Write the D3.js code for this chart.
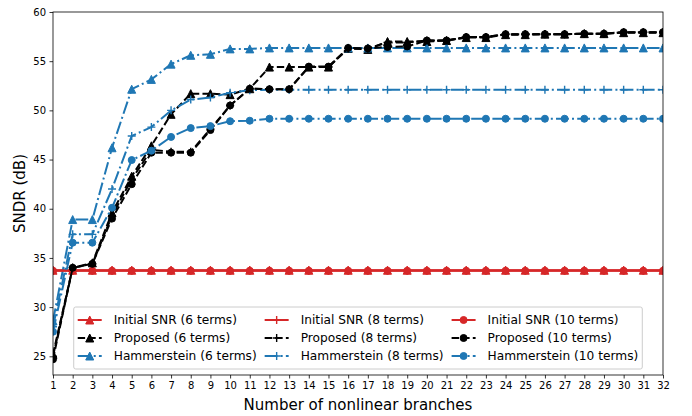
<!DOCTYPE html>
<html><head><meta charset="utf-8">
<script src="https://cdn.jsdelivr.net/npm/d3@7"></script>
<style>
html,body{margin:0;padding:0;background:#fff;}
svg{display:block;font-family:"DejaVu Sans",sans-serif;}
</style></head>
<body><svg id="chart" width="692" height="416"></svg>
<script>
const branches = [1,2,3,4,5,6,7,8,9,10,11,12,13,14,15,16,17,18,19,20,21,22,23,24,25,26,27,28,29,30,31,32];
const yTicks = [25,30,35,40,45,50,55,60];

const initial6  = [33.75,33.75,33.75,33.75,33.75,33.75,33.75,33.75,33.75,33.75,33.75,33.75,33.75,33.75,33.75,33.75,33.75,33.75,33.75,33.75,33.75,33.75,33.75,33.75,33.75,33.75,33.75,33.75,33.75,33.75,33.75,33.75];
const initial8  = [33.72,33.72,33.72,33.72,33.72,33.72,33.72,33.72,33.72,33.72,33.72,33.72,33.72,33.72,33.72,33.72,33.72,33.72,33.72,33.72,33.72,33.72,33.72,33.72,33.72,33.72,33.72,33.72,33.72,33.72,33.72,33.72];
const initial10 = [33.7,33.7,33.7,33.7,33.7,33.7,33.7,33.7,33.7,33.7,33.7,33.7,33.7,33.7,33.7,33.7,33.7,33.7,33.7,33.7,33.7,33.7,33.7,33.7,33.7,33.7,33.7,33.7,33.7,33.7,33.7,33.7];

const proposed6  = [25.2,34.0,34.5,39.6,43.3,46.4,49.6,51.7,51.7,51.6,52.2,54.4,54.4,54.4,54.4,56.3,56.2,57.0,57.0,57.0,57.1,57.4,57.4,57.7,57.7,57.75,57.75,57.8,57.8,57.9,57.9,57.9];
const proposed8  = [25.0,34.0,34.4,39.3,43.0,46.0,45.8,45.8,48.1,50.5,52.2,52.15,52.15,54.4,54.4,56.3,56.3,56.9,56.9,57.1,57.1,57.45,57.45,57.75,57.75,57.75,57.75,57.8,57.8,57.95,57.95,57.95];
const proposed10 = [24.7,34.0,34.4,39.0,42.5,45.7,45.7,45.7,48.0,50.5,52.2,52.15,52.15,54.45,54.45,56.35,56.3,56.45,56.5,57.1,57.1,57.45,57.45,57.75,57.75,57.75,57.75,57.8,57.8,57.95,57.95,57.95];

const hamm6  = [28.6,38.9,38.9,46.2,52.15,53.15,54.7,55.6,55.7,56.25,56.25,56.35,56.35,56.35,56.35,56.35,56.35,56.35,56.35,56.35,56.35,56.35,56.35,56.35,56.35,56.35,56.35,56.35,56.35,56.35,56.35,56.35];
const hamm8  = [28.0,37.4,37.4,42.0,47.4,48.3,50.0,51.1,51.3,51.8,52.05,52.1,52.1,52.1,52.1,52.1,52.1,52.1,52.1,52.1,52.1,52.1,52.1,52.1,52.1,52.1,52.1,52.1,52.1,52.1,52.1,52.1];
const hamm10 = [27.5,36.55,36.55,40.1,44.95,45.9,47.3,48.2,48.4,48.9,48.95,49.15,49.15,49.15,49.15,49.15,49.15,49.15,49.15,49.15,49.15,49.15,49.15,49.15,49.15,49.15,49.15,49.15,49.15,49.15,49.15,49.15];

const RED = "#d62728", BLUE = "#1f77b4", BLACK = "#000000";
const LW = 2;
const DASHED = [7.4, 3.2].join(",");
const DASHDOT = [12.8, 3.2, 2, 3.2].join(",");

const series = [
  {label:"Initial SNR (6 terms)",   values:initial6,   color:RED,   dash:null,    marker:"tri"},
  {label:"Proposed (6 terms)",      values:proposed6,  color:BLACK, dash:DASHED,  marker:"tri"},
  {label:"Hammerstein (6 terms)",   values:hamm6,      color:BLUE,  dash:DASHDOT, marker:"tri"},
  {label:"Initial SNR (8 terms)",   values:initial8,   color:RED,   dash:null,    marker:"plus"},
  {label:"Proposed (8 terms)",      values:proposed8,  color:BLACK, dash:DASHED,  marker:"plus"},
  {label:"Hammerstein (8 terms)",   values:hamm8,      color:BLUE,  dash:DASHDOT, marker:"plus"},
  {label:"Initial SNR (10 terms)",  values:initial10,  color:RED,   dash:null,    marker:"circle"},
  {label:"Proposed (10 terms)",     values:proposed10, color:BLACK, dash:DASHED,  marker:"circle"},
  {label:"Hammerstein (10 terms)",  values:hamm10,     color:BLUE,  dash:DASHDOT, marker:"circle"}
];

const svg = d3.select("#chart");
const L = 53, R = 663, T = 12, B = 375;
const x = d3.scaleLinear().domain([1, 32]).range([L, R]);
const y = d3.scaleLinear().domain([23.1, 60]).range([B, T]);

function drawMarker(g, type, cx, cy, color) {
  if (type === "circle") {
    g.append("circle").attr("cx", cx).attr("cy", cy).attr("r", 3.5)
      .attr("fill", color).attr("stroke", color).attr("stroke-width", 1);
  } else if (type === "tri") {
    const s = 4;
    g.append("path").attr("d", `M${cx},${cy - s}L${cx - s},${cy + s}L${cx + s},${cy + s}Z`)
      .attr("fill", color).attr("stroke", color).attr("stroke-width", 1).attr("stroke-linejoin", "miter");
  } else {
    const s = 4;
    g.append("path").attr("d", `M${cx - s},${cy}H${cx + s}M${cx},${cy - s}V${cy + s}`)
      .attr("fill", "none").attr("stroke", color).attr("stroke-width", 1.4);
  }
}

svg.append("defs").append("clipPath").attr("id", "clip")
  .append("rect").attr("x", L).attr("y", T).attr("width", R - L).attr("height", B - T);

const plot = svg.append("g").attr("clip-path", "url(#clip)");
const line = d3.line().x((d, i) => x(branches[i])).y(d => y(d));

series.forEach(s => {
  const g = plot.append("g");
  g.append("path").datum(s.values).attr("d", line)
    .attr("fill", "none").attr("stroke", s.color).attr("stroke-width", LW)
    .attr("stroke-dasharray", s.dash).attr("stroke-linejoin", "round").attr("stroke-linecap", "butt");
  s.values.forEach((v, i) => drawMarker(g, s.marker, x(branches[i]), y(v), s.color));
});

const xAxis = d3.axisBottom(x).tickValues(branches).tickFormat(d3.format("d")).tickSize(3.5).tickPadding(3.5);
const yAxis = d3.axisLeft(y).tickValues(yTicks).tickFormat(d3.format("d")).tickSize(3.5).tickPadding(3.5);
const gx = svg.append("g").attr("transform", `translate(0,${B})`).call(xAxis);
const gy = svg.append("g").attr("transform", `translate(${L},0)`).call(yAxis);
[gx, gy].forEach(g => {
  g.select(".domain").remove();
  g.selectAll(".tick line").attr("stroke", "#000").attr("stroke-width", 0.8);
  g.selectAll(".tick text").attr("fill", "#000").style("font-size", "10px").style("font-family", "DejaVu Sans");
});

svg.append("rect").attr("x", L).attr("y", T).attr("width", R - L).attr("height", B - T)
  .attr("fill", "none").attr("stroke", "#000").attr("stroke-width", 0.8);

svg.append("text").attr("x", (L + R) / 2).attr("y", 410).attr("text-anchor", "middle")
  .style("font-size", "15px").text("Number of nonlinear branches");
svg.append("text").attr("transform", `translate(25,${(T + B) / 2}) rotate(-90)`).attr("text-anchor", "middle")
  .style("font-size", "15px").text("SNDR (dB)");

const LF = 12.2, handleLen = 24, handlePad = 12, colSpace = 8, borderPad = 4, rowPitch = 18;
const lg = svg.append("g");
const box = lg.append("rect").attr("fill", "#fff").attr("fill-opacity", 0.8)
  .attr("stroke", "#cccccc").attr("stroke-width", 1).attr("rx", 2);
const items = lg.append("g");
const cols = [0, 1, 2].map(c => series.slice(c * 3, c * 3 + 3));
const meas = svg.append("text").style("font-size", LF + "px");
const colW = cols.map(col => d3.max(col, s => { meas.text(s.label); return meas.node().getComputedTextLength(); }));
meas.remove();
const totalW = borderPad * 2 + d3.sum(colW) + 3 * (handleLen + handlePad) + 2 * colSpace;
const boxBottom = 369, rows = 3;
const boxH = rows * rowPitch + 2 * borderPad;
const boxTop = boxBottom - boxH;
const boxLeft = (L + R) / 2 - totalW / 2;
box.attr("x", boxLeft).attr("y", boxTop).attr("width", totalW).attr("height", boxH);
let cx0 = boxLeft + borderPad;
cols.forEach((col, c) => {
  col.forEach((s, r) => {
    const cy = boxTop + borderPad + rowPitch * r + rowPitch / 2;
    const g = items.append("g");
    g.append("line").attr("x1", cx0).attr("x2", cx0 + handleLen).attr("y1", cy).attr("y2", cy)
      .attr("stroke", s.color).attr("stroke-width", LW).attr("stroke-dasharray", s.dash);
    drawMarker(g, s.marker, cx0 + handleLen / 2, cy, s.color);
    g.append("text").attr("x", cx0 + handleLen + handlePad).attr("y", cy).attr("dy", "0.36em")
      .style("font-size", LF + "px").attr("fill", "#000").text(s.label);
  });
  cx0 += handleLen + handlePad + colW[c] + colSpace;
});
</script></body></html>
